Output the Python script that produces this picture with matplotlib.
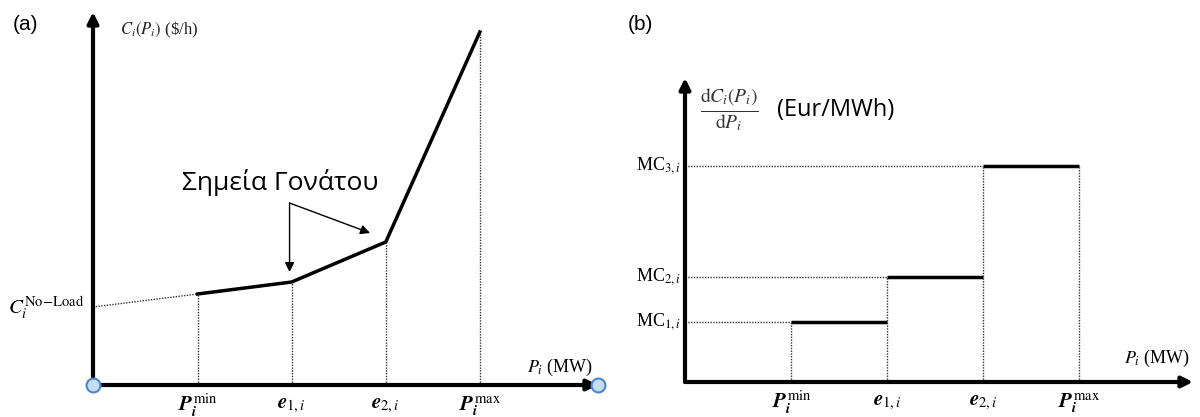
import numpy as np
import matplotlib.pyplot as plt

plt.rcParams['mathtext.fontset'] = 'stix'
plt.rcParams['font.family'] = ['Liberation Serif', 'DejaVu Serif']

# ---- data ----
# breakpoints of the piecewise linear cost curve (MW)
p_points = [100, 190, 280, 370]          # P_min, e1, e2, P_max
p_labels = [r'$\mathbfit{P}_{\mathbfit{i}}^{\,\mathrm{min}}$', r'$\mathbfit{e}_{1,i}$',
            r'$\mathbfit{e}_{2,i}$', r'$\mathbfit{P}_{\mathbfit{i}}^{\,\mathrm{max}}$']
cost_noload = 780                        # $/h at P = 0
cost_points = [910, 1030, 1430, 3530]    # $/h at the breakpoints
mc_values = [20, 35, 72]                 # Eur/MWh for each segment
mc_labels = [r'MC$_{1,i}$', r'MC$_{2,i}$', r'MC$_{3,i}$']

dot = dict(color='#333333', lw=1.0, ls=(0, (1, 1)))
fig = plt.figure(figsize=(12, 4.17), dpi=100)

# ================= (a) cost curve =================
ax1 = fig.add_axes([93/1200, 32/417, 505/1200, 373/417])
ax1.set_xlim(0, 483)
ax1.set_ylim(0, 3730)
ax1.set_axis_off()

# axes with arrow heads
ax1.annotate('', xy=(483, 0), xytext=(0, 0),
             arrowprops=dict(arrowstyle='-|>', lw=3, color='black', mutation_scale=16, shrinkA=0, shrinkB=0))
ax1.annotate('', xy=(0, 3730), xytext=(0, 0),
             arrowprops=dict(arrowstyle='-|>', lw=3, color='black', mutation_scale=16, shrinkA=0, shrinkB=0))
ax1.plot([0, 483], [0, 0], 'o', ms=10, mfc='#c5dcf5', mec='#4f86c6', mew=1.5, clip_on=False, zorder=5)

# no-load extension and cost curve
ax1.plot([0, p_points[0]], [cost_noload, cost_points[0]], **dot)
ax1.plot(p_points, cost_points, color='black', lw=2.5, solid_joinstyle='miter')
for p, c in zip(p_points, cost_points):
    ax1.plot([p, p], [0, c], **dot)

for p, lab in zip(p_points, p_labels):
    ax1.annotate(lab, (p, 0), xytext=(0, -15), textcoords='offset points',
                 ha='center', va='center', fontsize=15)

ax1.annotate(r'$C_i^{\mathrm{No\!-\!Load}}$', (0, cost_noload), xytext=(-6, 0),
             textcoords='offset points', ha='right', va='center', fontsize=15)
ax1.text(447, 180, r'$P_i$ (MW)', ha='center', va='center', fontsize=13)
ax1.text(26, 3550, r'$C_i(P_i)$ (\$/h)', ha='left', va='center', fontsize=12, color='#222222')

# knee point annotation
ax1.text(179, 2030, 'Σημεία Γονάτου', ha='center', va='center', fontsize=19,
         family=['Open Sans', 'DejaVu Sans'])
for tip in [(188, 1130), (265, 1520)]:
    ax1.annotate('', xy=tip, xytext=(188, 1820),
                 arrowprops=dict(arrowstyle='-|>', lw=1, color='black', mutation_scale=14, shrinkA=0, shrinkB=0))

# ================= (b) marginal cost =================
ax2 = fig.add_axes([685/1200, 35/417, 508/1200, 304/417])
ax2.set_xlim(0, 477)
ax2.set_ylim(0, 101.3)
ax2.set_axis_off()

ax2.annotate('', xy=(477, 0), xytext=(0, 0),
             arrowprops=dict(arrowstyle='-|>', lw=3, color='black', mutation_scale=16, shrinkA=0, shrinkB=0))
ax2.annotate('', xy=(0, 101.3), xytext=(0, 0),
             arrowprops=dict(arrowstyle='-|>', lw=3, color='black', mutation_scale=16, shrinkA=0, shrinkB=0))

for k, mc in enumerate(mc_values):
    x0, x1 = p_points[k], p_points[k + 1]
    ax2.plot([x0, x1], [mc, mc], color='black', lw=2.5, solid_capstyle='butt')
    ax2.plot([0, x0], [mc, mc], **dot)
    ax2.annotate(mc_labels[k], (0, mc), xytext=(-3, 0), textcoords='offset points',
                 ha='right', va='center', fontsize=13)

# vertical guides up to the higher of the adjacent steps
v_tops = [mc_values[0], mc_values[1], mc_values[2], mc_values[2]]
for p, top in zip(p_points, v_tops):
    ax2.plot([p, p], [0, top], **dot)

for p, lab in zip(p_points, p_labels):
    ax2.annotate(lab, (p, 0), xytext=(0, -15), textcoords='offset points',
                 ha='center', va='center', fontsize=15)

ax2.text(443, 8, r'$P_i$ (MW)', ha='center', va='center', fontsize=13)
ax2.text(42, 90.7, r'$\frac{\mathrm{d}C_i(P_i)}{\mathrm{d}P_i}$', ha='center', va='center', fontsize=20,
         color='#333333')
ax2.text(141, 90.7, '(Eur/MWh)', ha='center', va='center', fontsize=17,
         family=['Open Sans', 'DejaVu Sans'])

fig.text(25/1200, 1 - 25/417, '(a)', ha='center', va='center', fontsize=15, family='Liberation Sans')
fig.text(640/1200, 1 - 25/417, '(b)', ha='center', va='center', fontsize=15, family='Liberation Sans')

fig.savefig('out.png', dpi=100)
